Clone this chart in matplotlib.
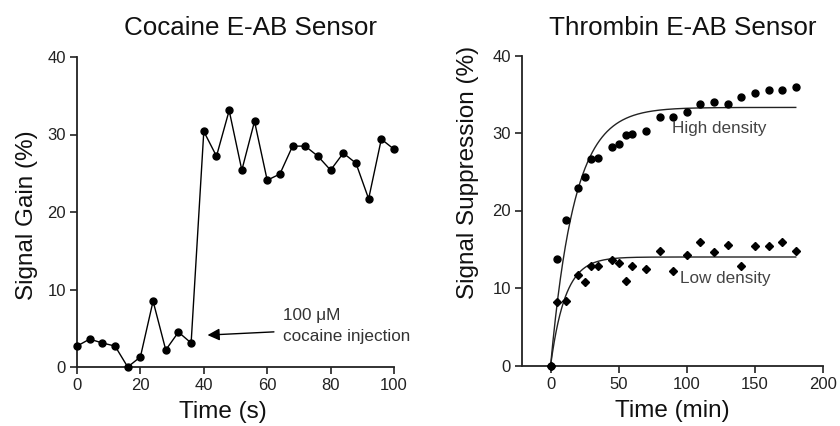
import numpy as np
import matplotlib
matplotlib.use("Agg")
import matplotlib.pyplot as plt

plt.rcParams['font.family'] = ['Liberation Sans', 'DejaVu Sans']

# ---- Cocaine sensor data ----
cocaine_time = [0, 4, 8, 12, 16, 20, 24, 28, 32, 36, 40, 44, 48, 52, 56, 60,
                64, 68, 72, 76, 80, 84, 88, 92, 96, 100]
cocaine_gain = [2.7, 3.6, 3.1, 2.7, 0.0, 1.3, 8.5, 2.2, 4.5, 3.1, 30.4, 27.2,
                33.1, 25.4, 31.7, 24.1, 24.9, 28.5, 28.5, 27.2, 25.4, 27.6,
                26.3, 21.7, 29.4, 28.1]

# ---- Thrombin sensor data ----
thrombin_time = [0, 5, 11, 20, 25, 30, 35, 45, 50, 55, 60, 70, 80, 90, 100,
                 110, 120, 130, 140, 150, 160, 170, 180]
high_density = [0.0, 13.8, 18.8, 22.9, 24.3, 26.7, 26.8, 28.2, 28.6, 29.8,
                29.9, 30.2, 32.1, 32.1, 32.7, 33.7, 34.0, 33.8, 34.6, 35.2,
                35.5, 35.5, 36.0]
low_density = [0.0, 8.2, 8.3, 11.7, 10.8, 12.9, 12.9, 13.6, 13.2, 10.9,
               12.9, 12.4, 14.8, 12.2, 14.3, 16.0, 14.6, 15.6, 12.9, 15.4,
               15.4, 15.9, 14.8]

# single-exponential fit parameters (plateau, time constant in min)
high_fit = (33.3, 17.5)
low_fit = (14.0, 10.8)

fig = plt.figure(figsize=(8.4, 4.26), dpi=100)

def style(ax):
    for s in ['top', 'right']:
        ax.spines[s].set_visible(False)
    for s in ['left', 'bottom']:
        ax.spines[s].set_linewidth(1.3)
        ax.spines[s].set_color('#222222')
    ax.tick_params(direction='out', length=5, width=1.2, labelsize=12,
                   colors='#222222', pad=3)

LABEL_FS = 17.5
TITLE_FS = 18.7
NOTE_FS = 12.3

# Left panel
ax1 = fig.add_axes([77/840, 1-367/426, 317/840, 310/426])
ax1.plot(cocaine_time, cocaine_gain, '-o', color='black', lw=1.0,
         markersize=5, clip_on=False, zorder=3)
ax1.set_xlim(0, 100)
ax1.set_ylim(0, 40)
ax1.set_xticks([0, 20, 40, 60, 80, 100])
ax1.set_yticks([0, 10, 20, 30, 40])
style(ax1)
ax1.set_xlabel('Time (s)', fontsize=LABEL_FS, color='#111111')
ax1.xaxis.set_label_coords(0.46, -0.11)
ax1.set_ylabel('Signal Gain (%)', fontsize=LABEL_FS, color='#111111')
ax1.yaxis.set_label_coords(-0.123, 0.49)
ax1.annotate('', xy=(40.3, 4.1), xytext=(63, 4.55),
             arrowprops=dict(arrowstyle='-|>', color='black', lw=1.0,
                             mutation_scale=18))
ax1.text(65, 6.6, '100 μM', fontsize=NOTE_FS, color='#333333', va='center',
         ha='left')
ax1.text(65, 4.0, 'cocaine injection', fontsize=NOTE_FS, color='#333333',
         va='center', ha='left')
fig.text(250/840, 1-35/426, 'Cocaine E-AB Sensor', fontsize=TITLE_FS,
         ha='center', va='baseline', color='#111111')

# Right panel
ax2 = fig.add_axes([522/840, 1-365.5/426, 301/840, 310/426])
t = np.linspace(0, 180, 400)
ax2.plot(t, high_fit[0]*(1-np.exp(-t/high_fit[1])), color='#222222', lw=1.0)
ax2.plot(t, low_fit[0]*(1-np.exp(-t/low_fit[1])), color='#222222', lw=1.0)
ax2.plot(thrombin_time, high_density, 'o', color='black', markersize=5,
         clip_on=False, zorder=3)
ax2.plot(thrombin_time, low_density, 'D', color='black', markersize=3.6,
         clip_on=False, zorder=3)
ax2.set_xlim(-21, 200)
ax2.set_ylim(0, 40)
ax2.set_xticks([0, 50, 100, 150, 200])
ax2.set_yticks([0, 10, 20, 30, 40])
style(ax2)
ax2.set_xlabel('Time (min)', fontsize=LABEL_FS, color='#111111')
ax2.xaxis.set_label_coords(0.5, -0.111)
ax2.set_ylabel('Signal Suppression (%)', fontsize=LABEL_FS, color='#111111')
ax2.yaxis.set_label_coords(-0.143, 0.624)
ax2.text(89, 30.6, 'High density', fontsize=NOTE_FS, color='#444444',
         va='center', ha='left')
ax2.text(95, 11.2, 'Low density', fontsize=NOTE_FS, color='#444444',
         va='center', ha='left')
fig.text(683/840, 1-35/426, 'Thrombin E-AB Sensor', fontsize=TITLE_FS,
         ha='center', va='baseline', color='#111111')

fig.savefig('out.png', dpi=100)
